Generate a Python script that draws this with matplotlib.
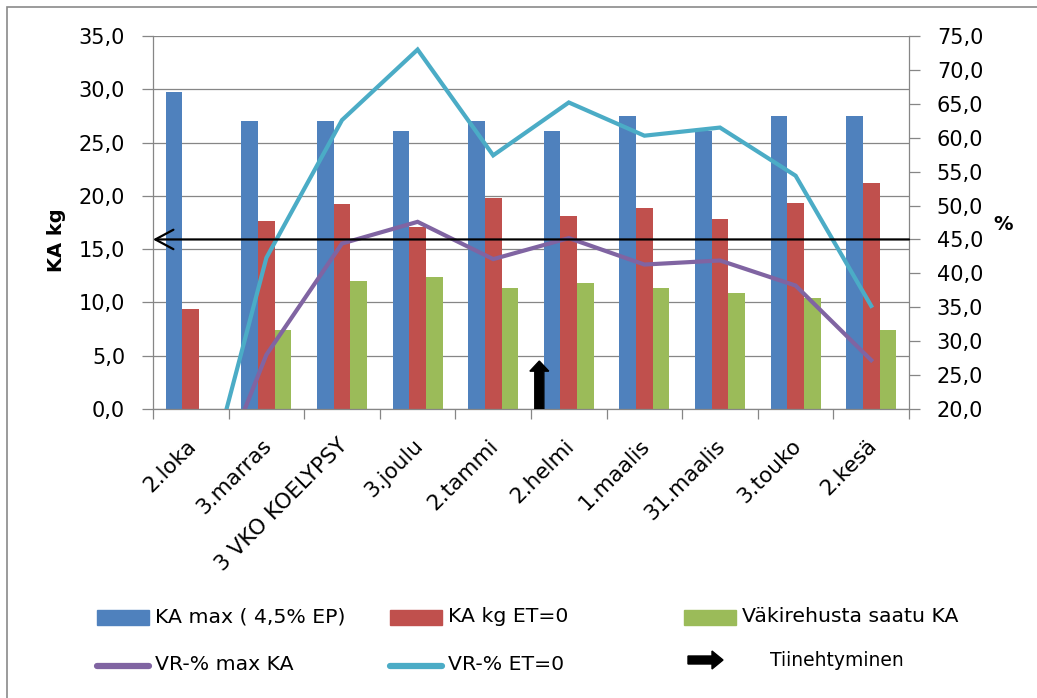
import matplotlib
matplotlib.use('agg')
import matplotlib.pyplot as plt
import matplotlib.patches as patches
from matplotlib.lines import Line2D
from matplotlib.ticker import FuncFormatter, FixedLocator
from matplotlib.transforms import ScaledTranslation

# ruokinta-aineisto
kuukaudet = ['2.loka', '3.marras', '3 VKO KOELYPSY', '3.joulu', '2.tammi',
             '2.helmi', '1.maalis', '31.maalis', '3.touko', '2.kesä']
ka_max = [29.7, 27.0, 27.0, 26.1, 27.0, 26.1, 27.5, 26.1, 27.5, 27.5]
ka_et0 = [9.35, 17.6, 19.2, 17.05, 19.8, 18.1, 18.85, 17.8, 19.3, 21.25]
vr_ka = [0.0, 7.4, 12.0, 12.4, 11.35, 11.8, 11.35, 10.9, 10.45, 7.45]
vr_pros_max = [0.0, 28.0, 44.4, 47.6, 42.1, 45.2, 41.3, 41.9, 38.2, 27.2]
vr_pros_et0 = [0.0, 42.3, 62.6, 73.0, 57.4, 65.2, 60.3, 61.5, 54.4, 35.2]
raja_pros = 45.0
tiine_x = 4.61
tiine_kg = 4.5

sininen = '#4F81BD'
punainen = '#C0504D'
vihrea = '#9BBB59'
violetti = '#8064A2'
turkoosi = '#4BACC6'
harmaa = '#868686'

W, H = 1037, 698
fig = plt.figure(figsize=(W / 100, H / 100), dpi=100)
ax = fig.add_axes([153 / W, 1 - 409 / H, (909 - 153) / W, (409 - 36) / H])
ax2 = ax.twinx()

def pilkku(v, pos):
    return f"{v:.1f}".replace('.', ',')

x = list(range(len(kuukaudet)))
w = 0.22
ax.bar([i - w for i in x], ka_max, w, color=sininen, zorder=2)
ax.bar(x, ka_et0, w, color=punainen, zorder=2)
ax.bar([i + w for i in x], vr_ka, w, color=vihrea, zorder=2)

ax.set_xlim(-0.5, len(kuukaudet) - 0.5)
ax.set_ylim(0, 35)
ax.set_yticks([0, 5, 10, 15, 20, 25, 30, 35])
ax.yaxis.set_major_formatter(FuncFormatter(pilkku))
ax.yaxis.grid(True, color=harmaa, lw=0.9)
ax.set_axisbelow(True)

ax.set_xticks(x)
ax.set_xticklabels(kuukaudet, rotation=45, ha='right', va='top',
                   rotation_mode='anchor', fontsize=15.5)
ax.xaxis.set_minor_locator(FixedLocator([i - 0.5 for i in range(len(kuukaudet) + 1)]))
ax.tick_params(axis='x', which='major', length=0, pad=19)
ax.tick_params(axis='x', which='minor', length=7, width=0.9, color=harmaa)
ax.tick_params(axis='y', length=8, width=0.9, color=harmaa, labelsize=15, pad=12)
for lbl in ax.get_xticklabels():
    lbl.set_transform(lbl.get_transform() + ScaledTranslation(-0.05, 0, fig.dpi_scale_trans))

for s in ['top', 'right']:
    ax.spines[s].set_visible(False)
for s in ['left', 'bottom']:
    ax.spines[s].set_color(harmaa)
    ax.spines[s].set_linewidth(0.9)

# tiineytymisen nuoli
ax.add_patch(patches.FancyArrow(tiine_x, 0, 0, tiine_kg, width=0.12, head_width=0.25,
                                head_length=0.95, length_includes_head=True,
                                color='black', zorder=4))

# prosenttiviivat oikealla akselilla
ax2.plot(x, vr_pros_max, color=violetti, lw=3, solid_joinstyle='miter')
ax2.plot(x, vr_pros_et0, color=turkoosi, lw=3, solid_joinstyle='miter')
ax2.set_ylim(20, 75)
ax2.set_yticks(list(range(20, 80, 5)))
ax2.yaxis.set_major_formatter(FuncFormatter(pilkku))
ax2.tick_params(axis='y', length=8, width=0.9, color=harmaa, labelsize=15, pad=12)
for s in ['top', 'left', 'bottom']:
    ax2.spines[s].set_visible(False)
ax2.spines['right'].set_color(harmaa)
ax2.spines['right'].set_linewidth(0.9)

ax2.annotate('', xy=(-0.5, raja_pros), xytext=(len(kuukaudet) - 0.5, raja_pros),
             arrowprops=dict(arrowstyle='->,head_length=1.3,head_width=0.7', lw=1.6,
                             color='black', shrinkA=0, shrinkB=0, mutation_scale=10),
             annotation_clip=False, zorder=5)

fig.text(56 / W, 1 - 240 / H, 'KA kg', rotation=90, ha='center', va='center',
         fontsize=14, fontweight='bold')
fig.text(1003 / W, 1 - 224 / H, '%', ha='center', va='center',
         fontsize=14, fontweight='bold')

# selite
def fx(px):
    return px / W

def fy(py):
    return 1 - py / H

tf = fig.transFigure
for x0, vari, teksti in [(97, sininen, 'KA max ( 4,5% EP)'),
                         (390, punainen, 'KA kg ET=0'),
                         (684, vihrea, 'Väkirehusta saatu KA')]:
    fig.add_artist(patches.Rectangle((fx(x0), fy(625)), 52 / W, 15 / H,
                                     transform=tf, color=vari))
    fig.text(fx(x0 + 58), fy(617), teksti, ha='left', va='center', fontsize=14.7)

for x0, vari, teksti in [(97, violetti, 'VR-% max KA'),
                         (390, turkoosi, 'VR-% ET=0')]:
    fig.add_artist(Line2D([fx(x0), fx(x0 + 52)], [fy(666), fy(666)], transform=tf,
                          color=vari, lw=4.5, solid_capstyle='round'))
    fig.text(fx(x0 + 58), fy(665), teksti, ha='left', va='center', fontsize=14.7)

fig.add_artist(patches.FancyArrow(fx(688), fy(660), 35 / W, 0, width=8 / H,
                                  head_width=18 / H, head_length=11 / W,
                                  length_includes_head=True, transform=tf,
                                  color='black'))
fig.text(fx(770), fy(661), 'Tiinehtyminen', ha='left', va='center', fontsize=13.5)

# kaavion kehys
fig.add_artist(patches.Rectangle((fx(7), -0.1), 1.5, fy(7) + 0.1, transform=tf,
                                 fill=False, edgecolor='#8a8a8a', lw=1.2))

fig.savefig('out.png', dpi=100)
